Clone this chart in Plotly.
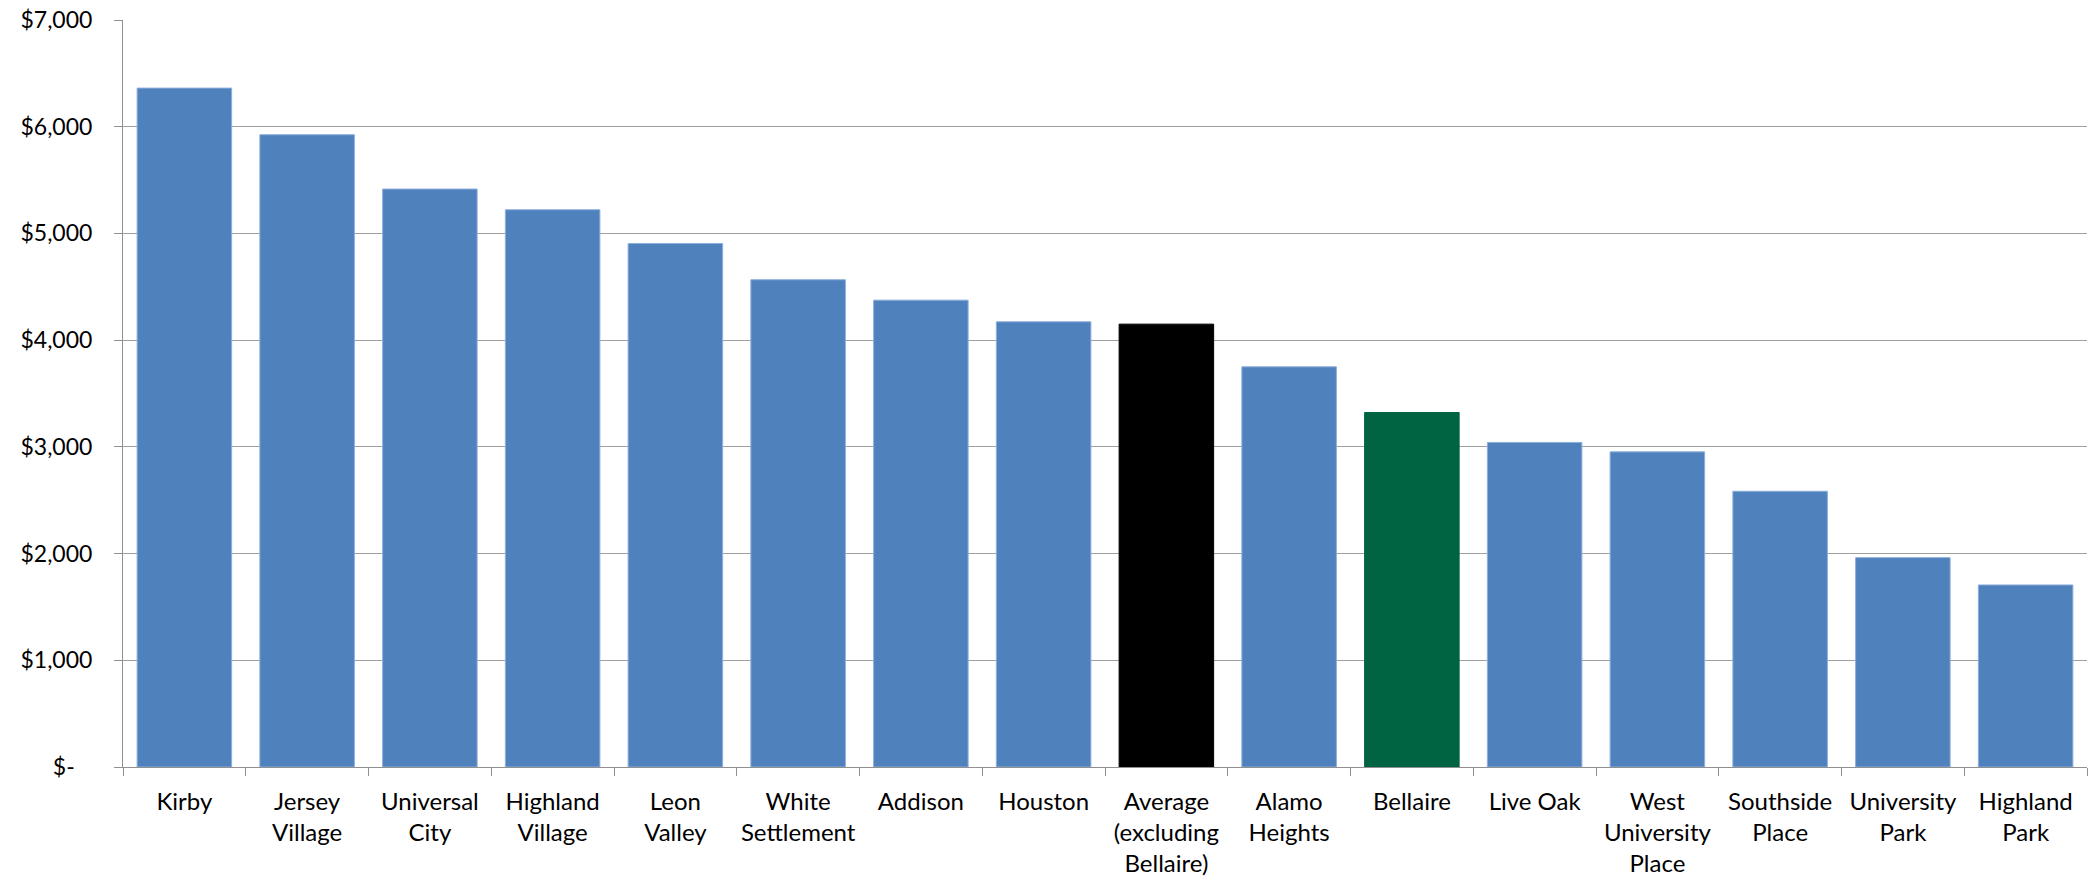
import plotly.graph_objects as go

categories = ["Kirby", "Jersey<br>Village", "Universal<br>City", "Highland<br>Village", "Leon<br>Valley",
              "White<br>Settlement", "Addison", "Houston", "Average<br>(excluding<br>Bellaire)", "Alamo<br>Heights",
              "Bellaire", "Live Oak", "West<br>University<br>Place", "Southside<br>Place", "University<br>Park",
              "Highland<br>Park"]
values = [6362, 5925, 5416, 5222, 4906, 4566, 4375, 4172, 4150, 3750, 3322, 3041, 2953, 2584, 1962, 1706]

tick_values = [0, 1000, 2000, 3000, 4000, 5000, 6000, 7000]
tick_labels = ["$-\u00a0\u00a0\u00a0", "$1,000", "$2,000", "$3,000", "$4,000", "$5,000", "$6,000", "$7,000"]

BLUE = "#4F81BD"
BLACK = "#000000"
GREEN = "#006341"
bar_colors = []
line_colors = []
for c in categories:
    if c.startswith("Average"):
        bar_colors.append(BLACK); line_colors.append(BLACK)
    elif c == "Bellaire":
        bar_colors.append(GREEN); line_colors.append(GREEN)
    else:
        bar_colors.append(BLUE); line_colors.append("#8EAEDB")

fig = go.Figure(go.Bar(
    x=categories, y=values,
    marker=dict(color=bar_colors, line=dict(color=line_colors, width=1)),
    width=0.77,
))

fig.update_layout(
    width=2091, height=882,
    margin=dict(l=123, r=4, t=20, b=115),
    paper_bgcolor="white", plot_bgcolor="white",
    showlegend=False,
    bargap=0.23,
)
fig.update_xaxes(
    type="category", automargin=False, tickangle=0,
    ticklabeloverflow="allow",
    showline=True, linecolor="#909090", linewidth=1,
    ticks="outside", tickson="boundaries", ticklen=8, tickcolor="#909090",
    tickfont=dict(family="Lato, Carlito, Calibri, sans-serif", size=24, color="#000000"),
    showgrid=False,
    ticklabelstandoff=13,
)
fig.update_yaxes(
    range=[0, 7000], automargin=False,
    ticklabeloverflow="allow",
    tickvals=tick_values, ticktext=tick_labels,
    showline=True, linecolor="#909090", linewidth=1,
    ticks="outside", ticklen=8, tickcolor="#909090",
    showgrid=True, gridcolor="#A0A0A0", gridwidth=1,
    tickfont=dict(family="Lato, Carlito, Calibri, sans-serif", size=23, color="#000000"),
    zeroline=False,
    ticklabelstandoff=17,
)

fig.write_html("out.html", config={"displayModeBar": False},
               post_script="document.body.style.margin='0';document.body.style.overflow='hidden';")
